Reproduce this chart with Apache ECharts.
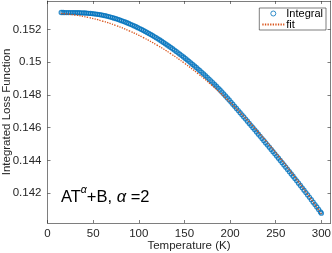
<!DOCTYPE html>
<html>
<head>
<meta charset="utf-8">
<script src="https://cdn.jsdelivr.net/npm/echarts@6/dist/echarts.min.js"></script>
<style>
html,body{margin:0;padding:0;background:#fff;}
#chart{width:332px;height:253px;}
</style>
</head>
<body>
<div id="chart"></div>
<script>
// Temperatures (K) of the "Integral" points
var temperature = [15,17,19,21,23,25,27,29,31,33,35,37,39,41,43,45,47,49,51,53,55,57,59,61,63,65,67,69,71,73,75,77,79,81,83,85,87,89,91,93,95,97,99,101,103,105,107,109,111,113,115,117,119,121,123,125,127,129,131,133,135,137,139,141,143,145,147,149,151,153,155,157,159,161,163,165,167,169,171,173,175,177,179,181,183,185,187,189,191,193,195,197,199,201,203,205,207,209,211,213,215,217,219,221,223,225,227,229,231,233,235,237,239,241,243,245,247,249,251,253,255,257,259,261,263,265,267,269,271,273,275,277,279,281,283,285,287,289,291,293,295,297,299,300];
// Integrated loss function values
var integral = [0.153028,0.153028,0.153027,0.153027,0.153026,0.153025,0.153024,0.153022,0.153021,0.153019,0.153015,0.153011,0.153005,0.152999,0.152991,0.152981,0.152972,0.152961,0.152949,0.152934,0.152918,0.152900,0.152880,0.152858,0.152834,0.152808,0.152780,0.152751,0.152719,0.152685,0.152650,0.152613,0.152574,0.152533,0.152492,0.152449,0.152404,0.152358,0.152310,0.152261,0.152211,0.152159,0.152105,0.152050,0.151994,0.151936,0.151877,0.151816,0.151754,0.151690,0.151625,0.151558,0.151491,0.151421,0.151350,0.151278,0.151204,0.151129,0.151053,0.150976,0.150897,0.150817,0.150737,0.150655,0.150572,0.150488,0.150402,0.150316,0.150228,0.150139,0.150048,0.149956,0.149864,0.149769,0.149674,0.149577,0.149480,0.149380,0.149280,0.149178,0.149075,0.148970,0.148864,0.148755,0.148644,0.148532,0.148417,0.148302,0.148183,0.148063,0.147941,0.147816,0.147691,0.147563,0.147434,0.147305,0.147177,0.147047,0.146918,0.146788,0.146658,0.146528,0.146397,0.146266,0.146135,0.146003,0.145871,0.145739,0.145607,0.145474,0.145342,0.145209,0.145076,0.144943,0.144810,0.144676,0.144542,0.144408,0.144274,0.144139,0.144004,0.143868,0.143731,0.143594,0.143457,0.143319,0.143180,0.143041,0.142900,0.142760,0.142619,0.142477,0.142334,0.142191,0.142047,0.141902,0.141756,0.141610,0.141462,0.141314,0.141165,0.141016,0.140865,0.140789];
// Fit curve samples
var fitTemperature = [15,30,45,60,75,90,105,120,135,150,165,180,195,210,225,240,255,270,285,300];
var fitValues = [0.152969,0.152877,0.152724,0.152510,0.152234,0.151897,0.151498,0.151039,0.150518,0.149935,0.149292,0.148587,0.147821,0.146994,0.146105,0.145155,0.144144,0.143071,0.141937,0.140742];
// Tick labels
var xTicks = [0,50,100,150,200,250,300];
var yTicks = [0.142,0.144,0.146,0.148,0.15,0.152];

var integralData = temperature.map(function(t,i){return [t, integral[i]];});
var fitData = fitTemperature.map(function(t,i){return [t, fitValues[i]];});

var FONT = "'Liberation Sans', Arial, Helvetica, sans-serif";
var AX = '#262626';
var XMIN = 0, XMAX = 310, YMIN = 0.14019, YMAX = 0.15373;

function xAxisCfg(pos, showLabels){
  return {
    type:'value', position:pos, min:XMIN, max:XMAX,
    name: showLabels ? 'Temperature (K)' : '',
    nameLocation:'middle', nameGap:17, nameMoveOverlap:false,
    nameTextStyle:{color:AX, fontFamily:FONT, fontSize:11.5},
    axisLine:{show:true, onZero:false, lineStyle:{color:AX, width:0.6}},
    axisTick:{show:true, inside:true, length:3, customValues:xTicks, lineStyle:{color:AX, width:0.6}},
    axisLabel:{show:showLabels, customValues:xTicks, margin:5, color:AX, fontFamily:FONT, fontSize:11.5},
    splitLine:{show:false}
  };
}
function yAxisCfg(pos, showLabels){
  return {
    type:'value', position:pos, min:YMIN, max:YMAX,
    name: showLabels ? 'Integrated Loss Function' : '',
    nameLocation:'middle', nameGap:35, nameRotate:90, nameMoveOverlap:false,
    nameTextStyle:{color:AX, fontFamily:FONT, fontSize:11.5},
    axisLine:{show:true, onZero:false, lineStyle:{color:AX, width:0.6}},
    axisTick:{show:true, inside:true, length:3, customValues:yTicks, lineStyle:{color:AX, width:0.6}},
    axisLabel:{show:showLabels, customValues:yTicks, margin:6, color:AX, fontFamily:FONT, fontSize:11.5,
      formatter:function(v){return String(+(+v).toFixed(3));}},
    splitLine:{show:false}
  };
}

var chart = echarts.init(document.getElementById('chart'), null, {renderer:'canvas'});
chart.setOption({
  animation:false,
  backgroundColor:'#fff',
  grid:{left:47.5, right:1.5, top:1, bottom:30, containLabel:false, outerBoundsMode:'none'},
  xAxis:[xAxisCfg('bottom', true), xAxisCfg('top', false)],
  yAxis:[yAxisCfg('left', true), yAxisCfg('right', false)],
  legend:{
    right:6, top:8, orient:'vertical',
    backgroundColor:'#fff', borderColor:'#262626', borderWidth:0.6,
    padding:[0,3,0,2], itemGap:0, itemWidth:22, itemHeight:5,
    textStyle:{color:'#000', fontFamily:FONT, fontSize:11, padding:[0,0,0,-3], lineHeight:10.5},
    data:[
      {name:'Integral', icon:'circle', itemStyle:{color:'rgba(0,0,0,0)', borderColor:'#0072BD', borderWidth:1}},
      {name:'fit', itemStyle:{opacity:0}}
    ]
  },
  graphic:[{
    type:'text', left:61, top:185,
    style:{
      text:'{n|AT}{s|α}{n|+B, }{i|α}{n| =2}',
      fontFamily:FONT,
      rich:{
        n:{fontSize:16.5, fontFamily:FONT, fill:'#000', verticalAlign:'bottom'},
        i:{fontSize:16.5, fontFamily:FONT, fill:'#000', fontStyle:'italic', verticalAlign:'bottom'},
        s:{fontSize:10.5, fontFamily:FONT, fill:'#000', fontStyle:'italic', padding:[0,0,10,0], verticalAlign:'bottom'}
      }
    }
  }],
  series:[
    {
      name:'Integral', type:'scatter', data:integralData,
      symbol:'circle', symbolSize:4,
      itemStyle:{color:'rgba(0,0,0,0)', borderColor:'#0072BD', borderWidth:1.3},
      emphasis:{disabled:true}, z:2
    },
    {
      name:'fit', type:'line', data:fitData, smooth:true,
      showSymbol:false, symbol:'none',
      lineStyle:{color:'#D95319', width:1.3, type:[1.3,1.3]},
      itemStyle:{color:'#D95319'},
      emphasis:{disabled:true}, z:3
    }
  ]
});
</script>
</body>
</html>
